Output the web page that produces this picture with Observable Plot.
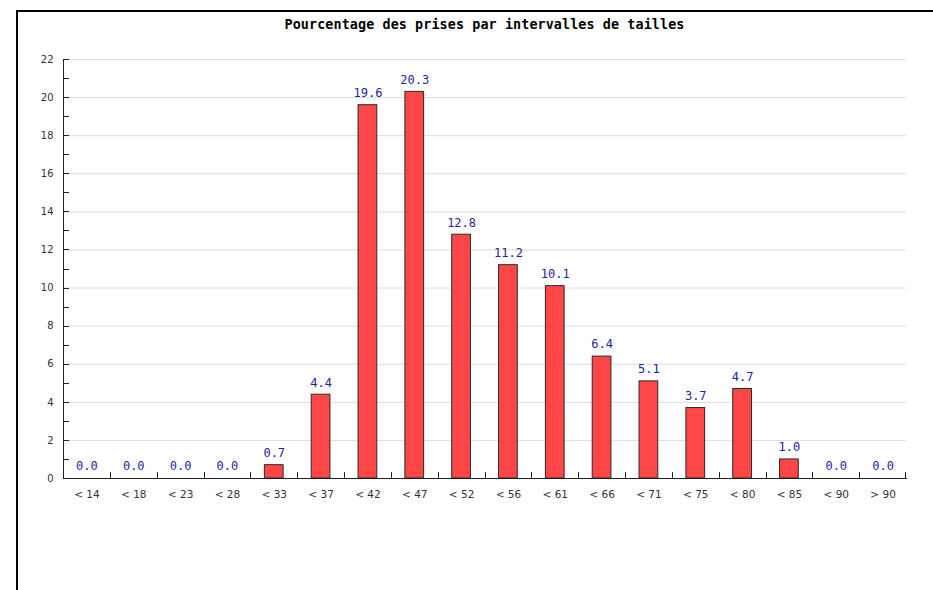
<!DOCTYPE html>
<html>
<head>
<meta charset="utf-8">
<script src="https://cdn.jsdelivr.net/npm/d3@7"></script>
<script src="https://cdn.jsdelivr.net/npm/@observablehq/plot@0.6"></script>
<style>
  html, body { margin: 0; padding: 0; background: #fff; width: 933px; height: 590px; overflow: hidden; }
  #wrap { position: relative; width: 933px; height: 590px; }
  #frame { position: absolute; left: 16px; top: 10px; right: 0; bottom: 0; border-left: 2px solid #000; border-top: 2px solid #000; }
  #title { position: absolute; left: 63px; width: 843px; top: 17px; text-align: center;
           font: bold 13.4px "DejaVu Sans Mono", monospace; letter-spacing: 0.1px; color: #000; }
  #chart { position: absolute; left: 0; top: 0; }
</style>
</head>
<body>
<div id="wrap">
  <div id="frame"></div>
  <div id="title">Pourcentage des prises par intervalles de tailles</div>
  <div id="chart"></div>
</div>
<script>
const categories = ["< 14","< 18","< 23","< 28","< 33","< 37","< 42","< 47","< 52","< 56","< 61","< 66","< 71","< 75","< 80","< 85","< 90","> 90"];
const values = [0.0, 0.0, 0.0, 0.0, 0.7, 4.4, 19.6, 20.3, 12.8, 11.2, 10.1, 6.4, 5.1, 3.7, 4.7, 1.0, 0.0, 0.0];
const yTicks = [0, 2, 4, 6, 8, 10, 12, 14, 16, 18, 20, 22];
const yMinorTicks = d3.range(0, 23, 1);

const data = categories.map((c, i) => ({label: c, value: values[i]}));

const chart = Plot.plot({
  width: 933,
  height: 590,
  marginLeft: 63,
  marginRight: 27,
  marginTop: 59,
  marginBottom: 112,
  style: {background: "transparent", fontFamily: "DejaVu Sans", fontSize: "10.5px", color: "#333"},
  x: {domain: categories, paddingInner: 0.6, paddingOuter: 0.3, round: false, label: null},
  y: {domain: [0, 22], label: null},
  marks: [
    Plot.gridY(yTicks.filter(d => d > 0), {stroke: "#dcdcdc", strokeOpacity: 1}),
    Plot.axisY(yTicks, {tickSize: 0, tickPadding: 10, fill: "#333", fontSize: 10, label: null}),
    Plot.axisX({tickSize: 0, tickPadding: 12, fill: "#333", label: null}),
    Plot.barY(data, {x: "label", y: "value", fill: "#ff4646", stroke: "#2a2a2a", strokeWidth: 1}),
    Plot.text(data, {x: "label", y: "value", text: d => d.value.toFixed(1), dy: -12,
      fill: "#1f1f9f", fontFamily: "DejaVu Sans Mono", fontSize: 12}),
    Plot.frame({anchor: "left", stroke: "#222"}),
    Plot.frame({anchor: "bottom", stroke: "#222"})
  ]
});

// axis tick marks drawn from the plot's own scales
const xs = chart.scale("x");
const ys = chart.scale("y");
const svg = d3.select(chart);
const g = svg.append("g").attr("stroke", "#222").attr("stroke-width", 1);
const x0 = xs.range[0];
const yBottom = ys.apply(0);
yMinorTicks.forEach(v => {
  const y = Math.round(ys.apply(v)) + 0.5;
  g.append("line").attr("x1", x0).attr("x2", x0 + 6).attr("y1", y).attr("y2", y);
});
const step = xs.step;
categories.forEach((c, i) => {
  const x = Math.round(xs.apply(c) + xs.bandwidth / 2 - step / 2) + 0.5;
  g.append("line").attr("x1", x).attr("x2", x).attr("y1", yBottom).attr("y2", yBottom - 6);
});
{
  const c = categories[categories.length - 1];
  const x = Math.round(xs.apply(c) + xs.bandwidth / 2 + step / 2) - 0.5;
  g.append("line").attr("x1", x).attr("x2", x).attr("y1", yBottom).attr("y2", yBottom - 6);
}

document.getElementById("chart").appendChild(chart);
</script>
</body>
</html>
